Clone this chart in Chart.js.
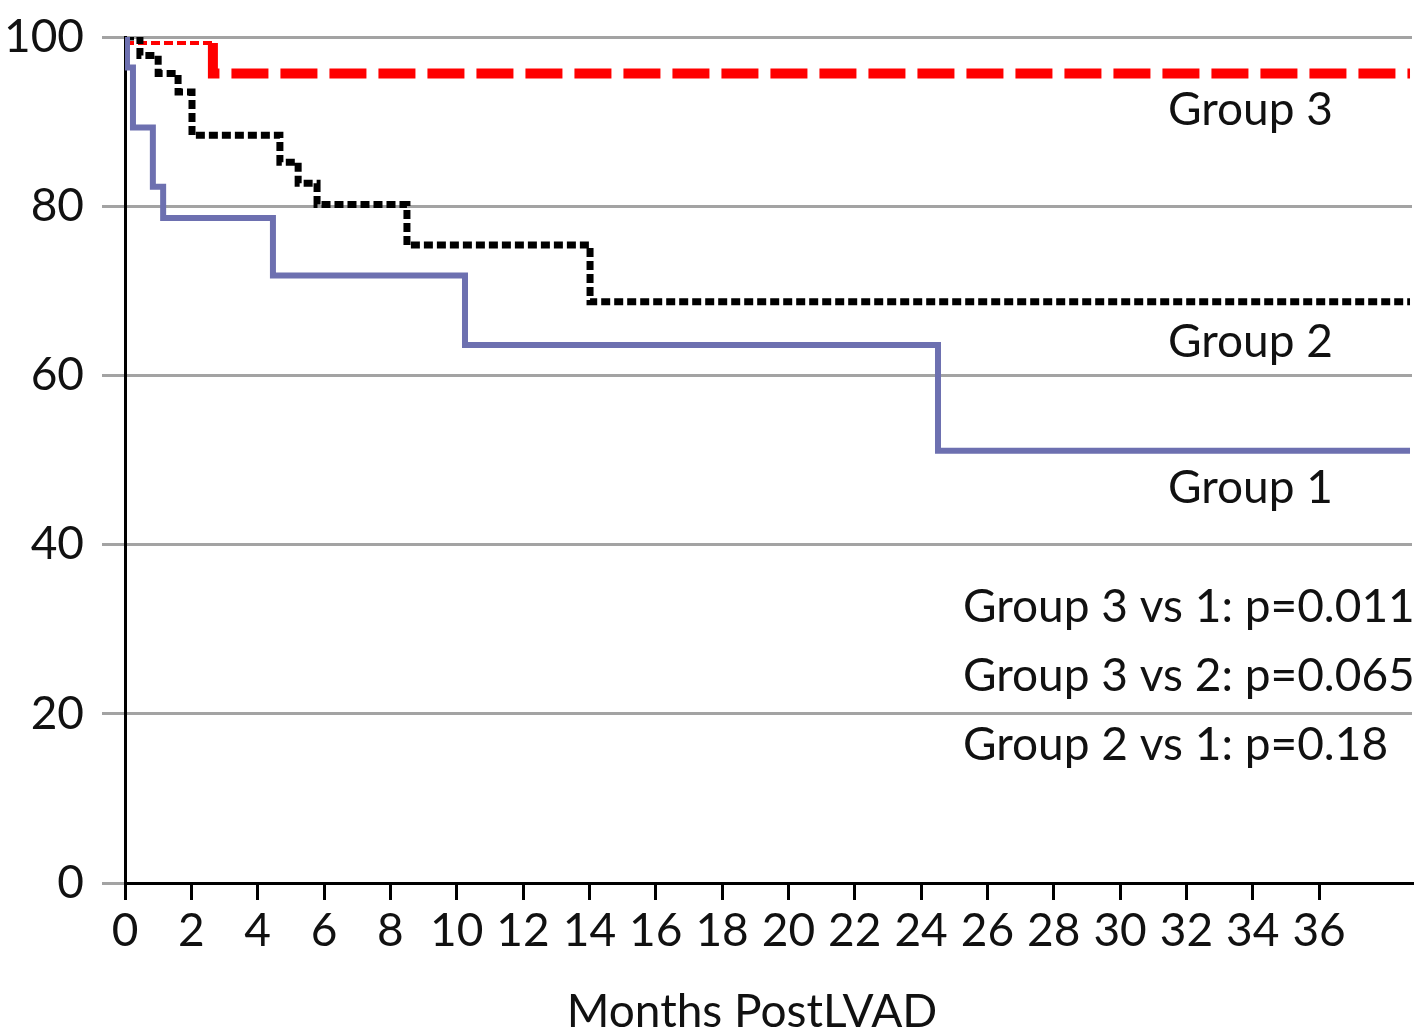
<!DOCTYPE html>
<html>
<head>
<meta charset="utf-8">
<script src="https://cdn.jsdelivr.net/npm/chart.js@4.4.1/dist/chart.umd.min.js"></script>
<style>
  html, body { margin: 0; padding: 0; background: #fff; }
  #wrap { width: 1420px; height: 1036px; }
</style>
</head>
<body>
<div id="wrap"><canvas id="myCanvas" width="1420" height="1036"></canvas></div>
<script>
// Kaplan-Meier survival, months post LVAD
const xTickLabels = [0, 2, 4, 6, 8, 10, 12, 14, 16, 18, 20, 22, 24, 26, 28, 30, 32, 34, 36];
const yTickLabels = [0, 20, 40, 60, 80, 100];

const group1Months = [0, 0.06, 0.24, 0.84, 1.15, 4.46, 10.25, 24.51, 38.74];
const group1Survival = [100, 96.4, 89.3, 82.3, 78.6, 71.8, 63.6, 51.1, 51.1];

const group2Months = [0, 0.45, 1.0, 1.6, 2.02, 4.67, 5.22, 5.79, 8.5, 14.02, 38.74];
const group2Survival = [100, 97.8, 95.7, 93.5, 88.4, 85.2, 82.7, 80.2, 75.4, 68.7, 68.7];

const group3Months = [0, 2.65, 2.65, 38.74];
const group3Survival = [99.3, 99.3, 95.7, 95.7];

const groupNames = ['Group 1', 'Group 2', 'Group 3'];
const pValueLines = ['Group 3 vs 1: p=0.011', 'Group 3 vs 2: p=0.065', 'Group 2 vs 1: p=0.18'];
const xTitle = 'Months PostLVAD';

const FONT = 'Lato, "Open Sans", sans-serif';

function toPoints(xs, ys) {
    return xs.map((x, i) => ({ x: x, y: ys[i] }));
}

// text drawn on top of the plot (group names, p values, axis title)
const notes = {
    id: 'notes',
    afterDraw(chart) {
        const ctx = chart.ctx;
        ctx.save();
        ctx.fillStyle = '#111';
        ctx.font = '46px ' + FONT;
        ctx.textAlign = 'left';
        ctx.textBaseline = 'alphabetic';
        // group names, top to bottom: 3, 2, 1
        ctx.fillText(groupNames[2], 1168, 125);
        ctx.fillText(groupNames[1], 1168, 357);
        ctx.fillText(groupNames[0], 1168, 503);
        let y = 622;
        for (const line of pValueLines) {
            ctx.fillText(line, 963, y);
            y += 69;
        }
        // title sits a bit left of the plot centre in the original
        ctx.textAlign = 'center';
        ctx.fillText(xTitle, 752, 1027);
        ctx.restore();
    }
};

const ctx = document.getElementById('myCanvas').getContext('2d');
const chart = new Chart(ctx, {
    type: 'line',
    data: {
        datasets: [{
            label: groupNames[0],
            data: toPoints(group1Months, group1Survival),
            borderColor: '#6d70b0',
            borderWidth: 6,
            stepped: true,
            pointRadius: 0,
            fill: false
        }, {
            label: groupNames[1],
            data: toPoints(group2Months, group2Survival),
            borderColor: '#000',
            borderWidth: 7,
            borderDash: [9, 4],
            borderCapStyle: 'butt',
            stepped: true,
            pointRadius: 0,
            fill: false
        }, {
            label: groupNames[2],
            data: toPoints(group3Months, group3Survival),
            borderColor: '#ff0000',
            borderWidth: 10,
            borderDash: [37, 12],
            stepped: true,
            pointRadius: 0,
            fill: false,
            segment: {
                // first stretch is drawn thin in the original
                borderWidth: c => c.p0DataIndex === 0 ? 4 : 10,
                borderDash: c => c.p0DataIndex === 0 ? [9, 4] : [37, 12]
            }
        }]
    },
    options: {
        responsive: false,
        animation: false,
        layout: { padding: { top: 37, right: 8, left: 0, bottom: 0 } },
        plugins: {
            legend: { display: false },
            tooltip: { enabled: false }
        },
        scales: {
            x: {
                type: 'linear',
                min: 0,
                max: 38.8,
                afterFit: s => { s.height = 153; },
                afterBuildTicks: s => { s.ticks = xTickLabels.map(v => ({ value: v })); },
                border: { display: true, color: '#000', width: 3 },
                grid: { display: true, drawOnChartArea: false, drawTicks: true, tickLength: 17, color: '#000', lineWidth: 3 },
                ticks: { color: '#111', font: { family: FONT, size: 46 }, padding: 4, maxRotation: 0, autoSkip: false }
            },
            y: {
                min: 0,
                max: 100,
                afterFit: s => {
                    s.width = 125;
                    // let layout.padding alone decide where the plot top is
                    s.paddingTop = 0;
                    s.paddingBottom = 0;
                },
                afterBuildTicks: s => { s.ticks = yTickLabels.map(v => ({ value: v })); },
                border: { display: true, color: '#000', width: 3 },
                grid: { color: '#a3a3a3', lineWidth: 3, tickLength: 23 },
                ticks: { color: '#111', font: { family: FONT, size: 46 }, padding: 18 }
            }
        }
    },
    plugins: [notes]
});
</script>
</body>
</html>
